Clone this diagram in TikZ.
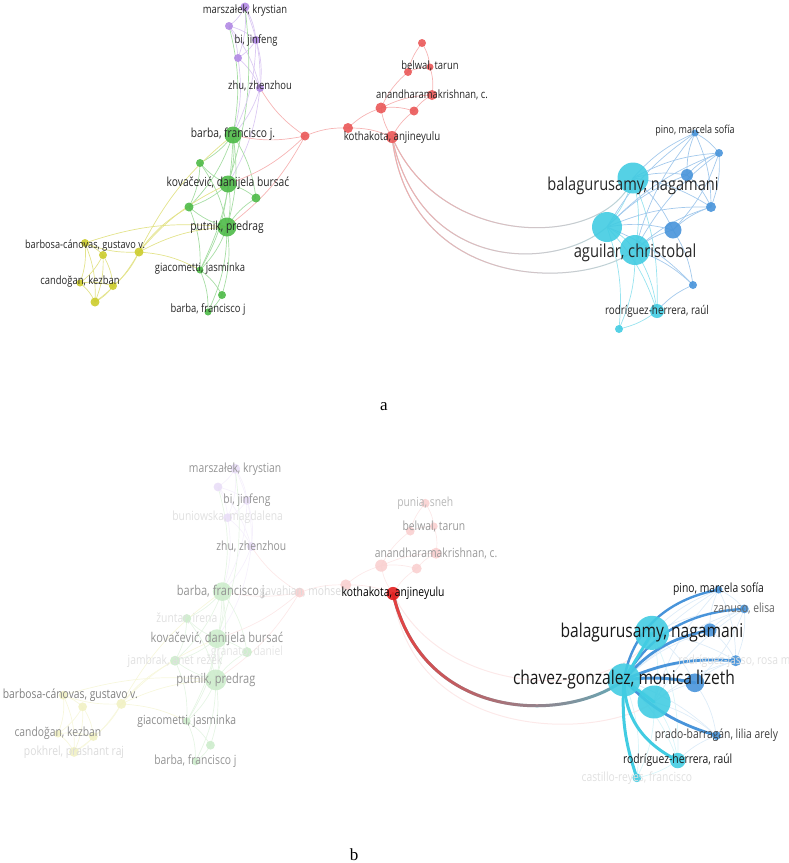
\documentclass[tikz,border=0pt]{standalone}
\usepackage{fontspec}
\setmainfont{Open Sans}[FakeStretch=0.82]
\newfontfamily\capfont{Liberation Serif}
\usetikzlibrary{fadings}

\definecolor{purpleN}{RGB}{178,138,228}
\definecolor{greenN}{RGB}{78,186,72}
\definecolor{yellowN}{RGB}{204,204,44}
\definecolor{redN}{RGB}{234,88,88}
\definecolor{cyanN}{RGB}{66,204,226}
\definecolor{blueN}{RGB}{72,148,218}
\definecolor{hotred}{RGB}{226,30,30}
\definecolor{midgrey}{RGB}{120,150,160}

\tikzfading[name=fadeE, left color=transparent!0, right color=transparent!100]

% label sizes in panel b
\def\fss{12.6}
\def\fsm{13.5}
\def\fsl{19}

% authors: name/x/y/size/colour, on the pixel grid of panel a
\def\authors{mk/245/7/9/grpP, p2/229/26/8/grpP, bj/256/40/8/grpP, bu/238/58/8/grpP, zh/260/88/8/grpP,
  gv/305/136/9/grpR, r1/348/128/10/grpR, r3/381/108/11/grpR, r4/414/111/9/grpR, an/432/95/10/grpR,
  bt/408/72/8/grpR, bw/430/67/7/grpR, pu/422/43/8/grpR, ko/392/137/12/koR,
  bf/233/135/17/grpG, zu/200/163/8/grpG, kd/228/184/17/grpG, gr/256/198/9/grpG, ja/189/207/9/grpG,
  pp/227/227/19/grpG, gj/200/270/7/grpG, g7/222/295/8/grpG, bx/208/312/7/grpG,
  y1/85/243/8/grpY, y2/103/255/8/grpY, y3/139/252/9/grpY, cd/80/283/7/grpY, y5/113/286/8/grpY, pk/95/302/9/grpY,
  ps/695/133/7/grpB, za/719/153/8/grpB, b1/687/175/12/grpB, rj/711/207/10/grpB, b2/673/230/17/grpB, pb/693/285/8/grpB,
  bn/633/178/31/grpC, cg/607/227/30/grpC, ag/635/250/30/grpC, rh/657/311/14/grpC, cr/619/329/8/grpC}

% co-authorship links: from/to/colour
\def\links{mk/p2/lnkP, mk/bj/lnkP, mk/bu/lnkP, p2/bj/lnkP, p2/bu/lnkP, bj/bu/lnkP, bj/zh/lnkP, bu/zh/lnkP,
  mk/zh/lnkP, p2/zh/lnkP, zh/bf/lnkP, bu/bf/lnkP, p2/bf/lnkG, mk/kd/lnkG, bj/bf/lnkP, zh/kd/lnkP,
  bf/kd/lnkG, bf/pp/lnkG, bf/zu/lnkG, bf/gr/lnkG, bf/ja/lnkG, kd/pp/lnkG, kd/zu/lnkG, kd/gr/lnkG,
  kd/ja/lnkG, pp/ja/lnkG, pp/gr/lnkG, pp/gj/lnkG, pp/g7/lnkG, pp/bx/lnkG, gj/bx/lnkG, g7/bx/lnkG,
  gj/g7/lnkG, zu/pp/lnkG, ja/gj/lnkG, bf/gj/lnkG, kd/gj/lnkG, zu/ja/lnkG,
  y1/y2/lnkY, y1/cd/lnkY, y1/pk/lnkY, y2/cd/lnkY, y2/y5/lnkY, y2/pk/lnkY, cd/y5/lnkY, cd/pk/lnkY,
  y5/pk/lnkY, y3/y1/lnkY, y3/y5/lnkY, y3/pk/lnkY, y3/pp/lnkY, y3/kd/lnkY, y3/ja/lnkY, y3/gj/lnkY,
  y1/pp/lnkY, y3/bf/lnkY,
  gv/r1/lnkR, r1/ko/lnkR, r1/r3/lnkR, ko/r3/lnkR, r3/bt/lnkR, r3/r4/lnkR, r4/an/lnkR, bt/bw/lnkR,
  bt/pu/lnkR, bw/an/lnkR, ko/r4/lnkR, gv/zh/lnkR, gv/bf/lnkR, gv/pp/lnkR, pu/bw/lnkR, r3/an/lnkR, gv/kd/lnkR,
  bn/cg/lnkC, bn/ag/lnkC, cg/ag/lnkC, cg/rh/lnkC, cg/cr/lnkC, ag/rh/lnkC, ag/cr/lnkC, rh/cr/lnkC, bn/rh/lnkC,
  bn/b1/lnkB, bn/ps/lnkB, bn/za/lnkB, bn/rj/lnkB, bn/b2/lnkB, cg/b1/lnkB, cg/ps/lnkB, cg/za/lnkB,
  cg/rj/lnkB, cg/b2/lnkB, cg/pb/lnkB, ag/b2/lnkB, ag/pb/lnkB, ag/rj/lnkB, b1/ps/lnkB, b1/za/lnkB,
  b1/rj/lnkB, b2/rj/lnkB, b2/pb/lnkB, ps/za/lnkB, za/rj/lnkB, rh/pb/lnkB, ps/rj/lnkB, za/b2/lnkB,
  ag/za/lnkB, ag/ps/lnkB}

% long links out of kothakota: to/control points
\def\longlinks{bn/440/250/605/250, cg/420/272/554/272, ag/410/291/581/291}

\begin{document}
\begin{tikzpicture}[x=1pt, y=-1pt]
\tikzstyle{author} = [circle, inner sep=0pt, fill opacity=0.9]
\tikzstyle{link} = [line width=0.7pt, bend left=12]
\tikzstyle{longlink} = [line width=1pt]
\tikzstyle{hot} = [line cap=round]
\tikzset{lbl/.style={inner sep=0pt, font=\fontsize{#1}{#1}\selectfont}}

\useasboundingbox (0,0) rectangle (789,863);
\clip (0,0) rectangle (789,863);

%%% panel a
\def\p{a}
\colorlet{grpP}{purpleN} \colorlet{grpG}{greenN} \colorlet{grpY}{yellowN}
\colorlet{grpR}{redN} \colorlet{koR}{redN} \colorlet{grpC}{cyanN} \colorlet{grpB}{blueN}
\colorlet{lnkP}{purpleN!45} \colorlet{lnkG}{greenN!50} \colorlet{lnkY}{yellowN!55}
\colorlet{lnkR}{redN!45} \colorlet{lnkC}{cyanN!55} \colorlet{lnkB}{blueN!50}

\foreach \n/\x/\y/\d/\c in \authors {\coordinate (\p-\n) at (\x,\y);}
\foreach \s/\t/\c in \links {\draw[link, draw=\c] (\p-\s) to (\p-\t);}
\foreach \t/\ax/\ay/\bx/\by in \longlinks {
  \draw[longlink, draw=cyanN!50!gray!45] (\p-ko) .. controls (\ax,\ay) and (\bx,\by) .. (\p-\t);
  \draw[longlink, draw=redN!50, path fading=fadeE] (\p-ko) .. controls (\ax,\ay) and (\bx,\by) .. (\p-\t);
}
\foreach \n/\x/\y/\d/\c in \authors {\node[author, fill=\c, minimum size=\d pt] (\p-\n-dot) at (\p-\n) {};}

\foreach \n/\t/\f/\dy in {mk/{marszałek, krystian}/11.5/-4, bj/{bi, jinfeng}/11.5/0, zh/{zhu, zhenzhou}/11.5/2,
  bf/{barba, francisco j.}/12.5/1, kd/{kovačević, danijela bursać}/12.5/1, pp/{putnik, predrag}/12.5/0,
  y1/{barbosa-cánovas, gustavo v.}/11.2/-3, cd/{candoğan, kezban}/11.5/1, gj/{giacometti, jasminka}/11.5/1,
  bx/{barba, francisco j}/11.5/3, bw/{belwal, tarun}/11.5/1, an/{anandharamakrishnan, c.}/11.5/0,
  ko/{kothakota, anjineyulu}/11.8/0, ps/{pino, marcela sofía}/11/2, bn/{balagurusamy, nagamani}/17.8/-8,
  ag/{aguilar, christobal}/18/-3, rh/{rodríguez-herrera, raúl}/12/0}
  {\node[lbl=\f, text=black!85, yshift=\dy pt] (\p-\n-txt) at (\p-\n) {\t};}

\node[font=\capfont\fontsize{17}{17}\selectfont] (cap-a) at (384,407) {a};

%%% panel b
\def\p{b}
\colorlet{grpP}{purpleN!28} \colorlet{grpG}{greenN!28} \colorlet{grpY}{yellowN!28}
\colorlet{grpR}{redN!28} \colorlet{koR}{hotred}
\colorlet{lnkP}{purpleN!12} \colorlet{lnkG}{greenN!14} \colorlet{lnkY}{yellowN!16}
\colorlet{lnkR}{redN!13} \colorlet{lnkC}{cyanN!20} \colorlet{lnkB}{blueN!18}

\begin{scope}[shift={(-28,462)}, xscale=1.074, yscale=0.96]
\foreach \n/\x/\y/\d/\c in \authors {\coordinate (\p-\n) at (\x,\y);}
\foreach \s/\t/\c in \links {\draw[link, draw=\c] (\p-\s) to (\p-\t);}
\foreach \t/\ax/\ay/\bx/\by in {bn/440/250/605/250, ag/410/291/581/291}
  {\draw[longlink, draw=lnkR] (\p-ko) .. controls (\ax,\ay) and (\bx,\by) .. (\p-\t);}
% the highlighted links of chavez-gonzalez
\draw[hot, line width=3pt, draw=midgrey!60!cyanN] (\p-ko) .. controls (420,272) and (554,272) .. (\p-cg);
\draw[hot, line width=3pt, draw=hotred!85, path fading=fadeE] (\p-ko) .. controls (420,272) and (554,272) .. (\p-cg);
\foreach \t/\c/\b/\w in {ps/blueN/35/2.4, za/blueN/30/2.4, b1/blueN/20/2.8, rj/blueN/15/2.8, b2/blueN/10/3,
  pb/blueN/-15/2.8, rh/cyanN/-30/3, cr/cyanN/-10/3, bn/cyanN/0/3, ag/cyanN/0/3}
  {\draw[hot, line width=\w pt, draw=\c, bend left=\b] (\p-cg) to (\p-\t);}
\foreach \n/\x/\y/\d/\c in \authors {\node[author, fill=\c, minimum size=1.1*\d pt] (\p-\n-dot) at (\p-\n) {};}

\foreach \n/\t/\f/\c/\dx in {mk/{marszałek, krystian}/s/black!42/0, bj/{bi, jinfeng}/s/black!42/0,
  bu/{buniowska, magdalena}/s/black!12/0, zh/{zhu, zhenzhou}/s/black!42/0, bf/{barba, francisco j.}/m/black!42/0,
  gv/{gavahian, mohsen}/s/black!14/4, zu/{žuntar, irena}/s/black!12/0, kd/{kovačević, danijela bursać}/m/black!42/0,
  gr/{granato, daniel}/s/black!10/0, ja/{jambrak, anet režek}/s/black!12/0, pp/{putnik, predrag}/m/black!42/0,
  y1/{barbosa-cánovas, gustavo v.}/s/black!50/7, gj/{giacometti, jasminka}/s/black!45/0,
  cd/{candoğan, kezban}/s/black!45/0, pk/{pokhrel, prashant raj}/s/black!14/0, bx/{barba, francisco j}/s/black!42/0,
  pu/{punia, sneh}/s/black!28/0, bw/{belwal, tarun}/s/black!40/0, an/{anandharamakrishnan, c.}/s/black!40/0,
  ko/{kothakota, anjineyulu}/s/black/0, ps/{pino, marcela sofía}/s/black!90/0, za/{zanuso, elisa}/s/black!60/0,
  bn/{balagurusamy, nagamani}/l/black!90/0, rj/{rodríguez-jasso, rosa m.}/s/black!12/0,
  cg/{chavez-gonzalez, monica lizeth}/l/black!90/0, pb/{prado-barragán, lilia arely}/s/black!75/0,
  rh/{rodríguez-herrera, raúl}/s/black!90/0, cr/{castillo-reyes, francisco}/s/black!12/0}
  {\node[lbl=\csname fs\f\endcsname, text=\c, xshift=\dx pt] (\p-\n-txt) at (\p-\n) {\t};}
\end{scope}

\node[font=\capfont\fontsize{17}{17}\selectfont] (cap-b) at (354,855) {b};
\end{tikzpicture}
\end{document}
